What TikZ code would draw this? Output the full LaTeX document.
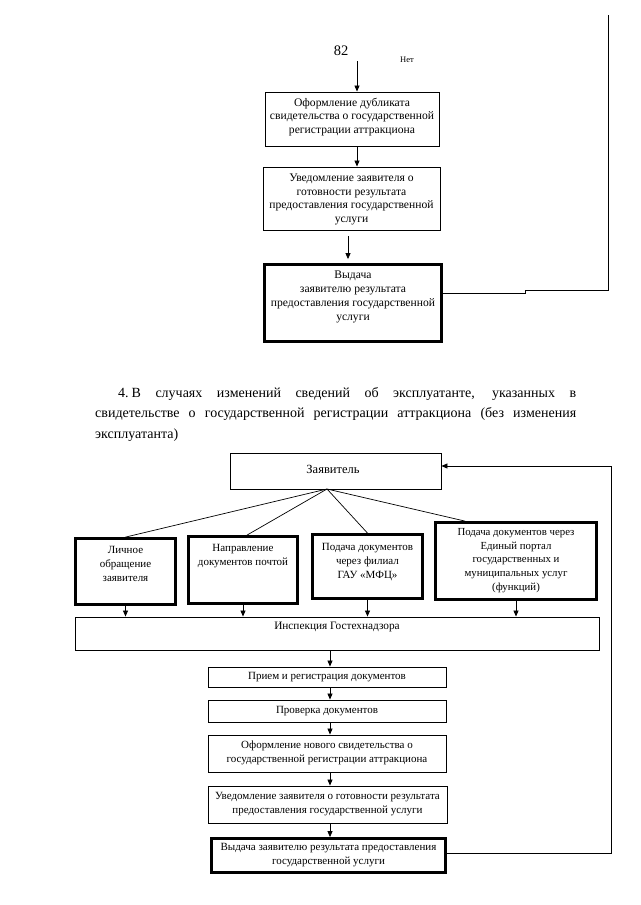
\documentclass[tikz,border=0pt]{standalone}
\usepackage{fontspec}
\setmainfont{Liberation Serif}
\usetikzlibrary{arrows.meta}
\begin{document}
\begin{tikzpicture}[x=1pt,y=-1pt,
  thinbox/.style={draw, line width=0.9pt, inner sep=0pt},
  thickbox/.style={draw, line width=2.8pt, inner sep=0pt},
  txt/.style={align=center, inner sep=0pt, font=\fontsize{11}{14}\selectfont},
  toptxt/.style={align=center, inner sep=0pt, font=\fontsize{11.6}{13.8}\selectfont},
  arr/.style={-{Triangle[length=6pt,width=5pt]}, line width=0.8pt},
  ln/.style={line width=0.7pt}]
\useasboundingbox[fill=white] (0,0) rectangle (640,905);

% ---------- top part ----------
\node[font=\fontsize{14.5}{16}\selectfont, inner sep=0pt] (n82) at (341,51) {82};
\node[font=\fontsize{8.5}{9}\selectfont, inner sep=0pt] (net) at (407,60) {Нет};
\coordinate (c82) at (357,61);
\coordinate (topend) at (608,15);

\node[thinbox, minimum width=174pt, minimum height=54pt] (b1) at (352,119) {};
\node[toptxt] (t1) at (352,117) {Оформление дубликата\\свидетельства о государственной\\регистрации аттракциона};
\node[thinbox, minimum width=177pt, minimum height=63pt] (b2) at (351.5,198.5) {};
\node[toptxt] (t2) at (351.5,199.5) {Уведомление заявителя о\\готовности результата\\предоставления государственной\\услуги};
\node[thickbox, minimum width=177pt, minimum height=77pt] (b3) at (353,303) {};
\node[toptxt] (t3) at (353,297) {Выдача\\заявителю результата\\предоставления государственной\\услуги};

\draw[arr] (c82) -- (c82 |- b1.north);
\draw[arr] ([xshift=5pt]b1.south) -- ([xshift=5pt]b1.south |- b2.north);
\draw[arr] ([xshift=-3.5pt,yshift=-6pt]b2.south) -- ([xshift=-5pt,yshift=4pt]b3.north);
\draw[ln] ([yshift=10pt]b3.east) -- (525,293) -- (525,290) -- (608,290) -- (topend);

% ---------- paragraph ----------
\begin{scope}[every node/.style={anchor=base west, inner sep=0pt, font=\fontsize{14}{20}\selectfont}]
\node (p1) at (118,397) {\makebox[458pt][s]{4.\kern3pt В случаях изменений сведений об эксплуатанте, указанных в}};
\node (p2) at (95,417) {\makebox[481pt][s]{свидетельстве о государственной регистрации аттракциона (без изменения}};
\node (p3) at (95,438) {эксплуатанта)};
\end{scope}

% ---------- bottom part ----------
\node[thinbox, minimum width=211pt, minimum height=36pt] (Z) at (335.5,471) {};
\node[font=\fontsize{12.5}{14}\selectfont, inner sep=0pt] (tZ) at (333,469) {Заявитель};
\coordinate (zc) at (327,489);

\node[thickbox, minimum width=100pt, minimum height=66pt] (A) at (125.5,571.5) {};
\node[txt] (tA) at (125.5,564) {Личное\\обращение\\заявителя};
\node[thickbox, minimum width=109pt, minimum height=67pt] (B) at (243,570) {};
\node[txt] (tB) at (243,556) {Направление\\документов почтой};
\node[thickbox, minimum width=110pt, minimum height=64pt] (C) at (367.5,566.5) {};
\node[txt] (tC) at (367.5,562) {Подача документов\\через филиал\\ГАУ «МФЦ»};
\node[thickbox, minimum width=161pt, minimum height=77pt] (D) at (516,561) {};
\node[txt, font=\fontsize{10.8}{13.6}\selectfont] (tD) at (516,560.5) {Подача документов через\\Единый портал\\государственных и\\муниципальных услуг\\(функций)};

\draw[ln] (zc) -- (A.north);
\draw[ln] (zc) -- ([xshift=4pt]B.north);
\draw[ln] (zc) -- (C.north);
\draw[ln] (zc) -- ([xshift=-51pt]D.north);

\node[thinbox, minimum width=524pt, minimum height=33pt] (I) at (337,633.5) {};
\node[font=\fontsize{11.3}{13}\selectfont, inner sep=0pt] (tI) at (337,627) {Инспекция Гостехнадзора};

\draw[arr] (A.south) -- (A.south |- I.north);
\draw[arr] (B.south) -- (B.south |- I.north);
\draw[arr] (C.south) -- (C.south |- I.north);
\draw[arr] (D.south) -- (D.south |- I.north);

\node[thinbox, minimum width=238pt, minimum height=20pt] (P) at (327,677) {};
\node[txt] (tP) at (327,677) {Прием и регистрация документов};
\node[thinbox, minimum width=238pt, minimum height=22pt] (V) at (327,711) {};
\node[txt] (tV) at (327,711) {Проверка документов};
\node[thinbox, minimum width=238pt, minimum height=37pt] (O) at (327,753.5) {};
\node[txt] (tO) at (327,753) {Оформление нового свидетельства о\\государственной регистрации аттракциона};
\node[thinbox, minimum width=239pt, minimum height=37pt] (U) at (327.5,804.5) {};
\node[txt] (tU) at (327.5,804) {Уведомление заявителя о готовности результата\\предоставления государственной услуги};
\node[thickbox, minimum width=234pt, minimum height=34pt] (W) at (328.5,855.5) {};
\node[txt] (tW) at (328.5,855.5) {Выдача заявителю результата предоставления\\государственной услуги};

\draw[arr] (330,0 |- I.south) -- (330,0 |- P.north);
\draw[arr] (330,0 |- P.south) -- (330,0 |- V.north);
\draw[arr] (330,0 |- V.south) -- (330,0 |- O.north);
\draw[arr] (330,0 |- O.south) -- (330,0 |- U.north);
\draw[arr] (330,0 |- U.south) -- (330,0 |- W.north);

\coordinate (rr) at (611,853);
\draw[ln, -{Triangle[length=6pt,width=5pt]}] ([yshift=2.5pt]W.east) -- (rr) -- (rr |- 0,466) -- ([yshift=5pt]Z.east);
\end{tikzpicture}
\end{document}
